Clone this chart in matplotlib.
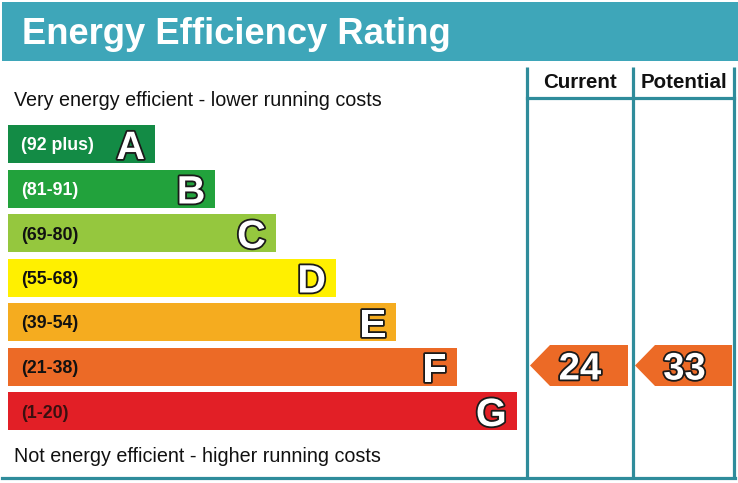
import matplotlib
matplotlib.use("Agg")
import matplotlib.pyplot as plt
import matplotlib.patheffects as pe
from matplotlib.patches import Rectangle, Polygon

# band data
bands = ["A", "B", "C", "D", "E", "F", "G"]
ranges = ["(92 plus)", "(81-91)", "(69-80)", "(55-68)", "(39-54)", "(21-38)", "(1-20)"]
lower_bounds = [92, 81, 69, 55, 39, 21, 1]
colors = ["#138b45", "#22a23c", "#95c73e", "#fff000", "#f5ac1f", "#ec6a26", "#e21f26"]
label_colors = ["white", "white", "#111111", "#111111", "#111111", "#111111", "#3a1010"]

current = 24
potential = 33

title = "Energy Efficiency Rating"
top_text = "Very energy efficient - lower running costs"
bottom_text = "Not energy efficient - higher running costs"

teal = "#3ea6b9"
line_col = "#2f8c9b"
font = "Liberation Sans"


def band_index(value):
    for i, lb in enumerate(lower_bounds):
        if value >= lb:
            return i
    return len(lower_bounds) - 1


def outlined(ax, x, y, s, size, ha="center"):
    # y is the baseline
    ax.text(x, y, s, fontsize=size, fontweight="bold", family=font, color="white",
            ha=ha, va="baseline",
            path_effects=[pe.Stroke(linewidth=2.6, foreground="#1a1a1a"), pe.Normal()])


fig = plt.figure(figsize=(7.38, 4.83), dpi=100)
ax = fig.add_axes([0, 0, 1, 1])
ax.set_xlim(0, 738)
ax.set_ylim(483, 0)
ax.axis("off")

# title band
ax.add_patch(Rectangle((2, 2), 736, 59, color=teal, lw=0))
ax.text(22, 44, title, fontsize=26.2, fontweight="bold", family=font, color="white",
        ha="left", va="baseline")

# bars
y0, step, h = 144, 44.5, 38
ys = [y0 + step * i for i in range(len(bands))]
widths = [147 + 60.3 * i for i in range(len(bands))]
ax.barh(ys, widths, height=h, left=8, color=colors, lw=0)
for y, w, r, lc, b in zip(ys, widths, ranges, label_colors, bands):
    ax.text(21, y + 2, r, fontsize=12.8, fontweight="bold", family=font, color=lc,
            ha="left", va="center")
    outlined(ax, 8 + w - 10, y + 15, b, 28.5, ha="right")

ax.text(14, 100, top_text, fontsize=14.2, family=font, color="#111111", ha="left", va="center")
ax.text(14, 456, bottom_text, fontsize=14.2, family=font, color="#111111", ha="left", va="center")

# columns
lw = 2.3
for x in [527, 633, 734]:
    ax.plot([x, x], [67, 478], color=line_col, lw=lw, solid_capstyle="butt")
ax.plot([527, 734], [98, 98], color=line_col, lw=lw)
ax.plot([2, 735], [478, 478], color=line_col, lw=lw)
ax.text(580, 83, "Current", fontsize=14.8, fontweight="bold", family=font, color="#111111",
        ha="center", va="center")
ax.text(684, 83, "Potential", fontsize=14.8, fontweight="bold", family=font, color="#111111",
        ha="center", va="center")

# rating arrows
for val, x_tip, x_right in [(current, 530, 628), (potential, 635, 732)]:
    i = band_index(val)
    yc = ys[i] - 1
    top, bot = yc - 20.5, yc + 20.5
    ax.add_patch(Polygon([(x_tip, yc), (x_tip + 20, top), (x_right, top),
                          (x_right, bot), (x_tip + 20, bot)],
                         closed=True, color=colors[i], lw=0))
    outlined(ax, (x_tip + 20 + x_right) / 2 - 9, yc + 14, str(val), 27.5)

fig.savefig("out.png", dpi=100)
